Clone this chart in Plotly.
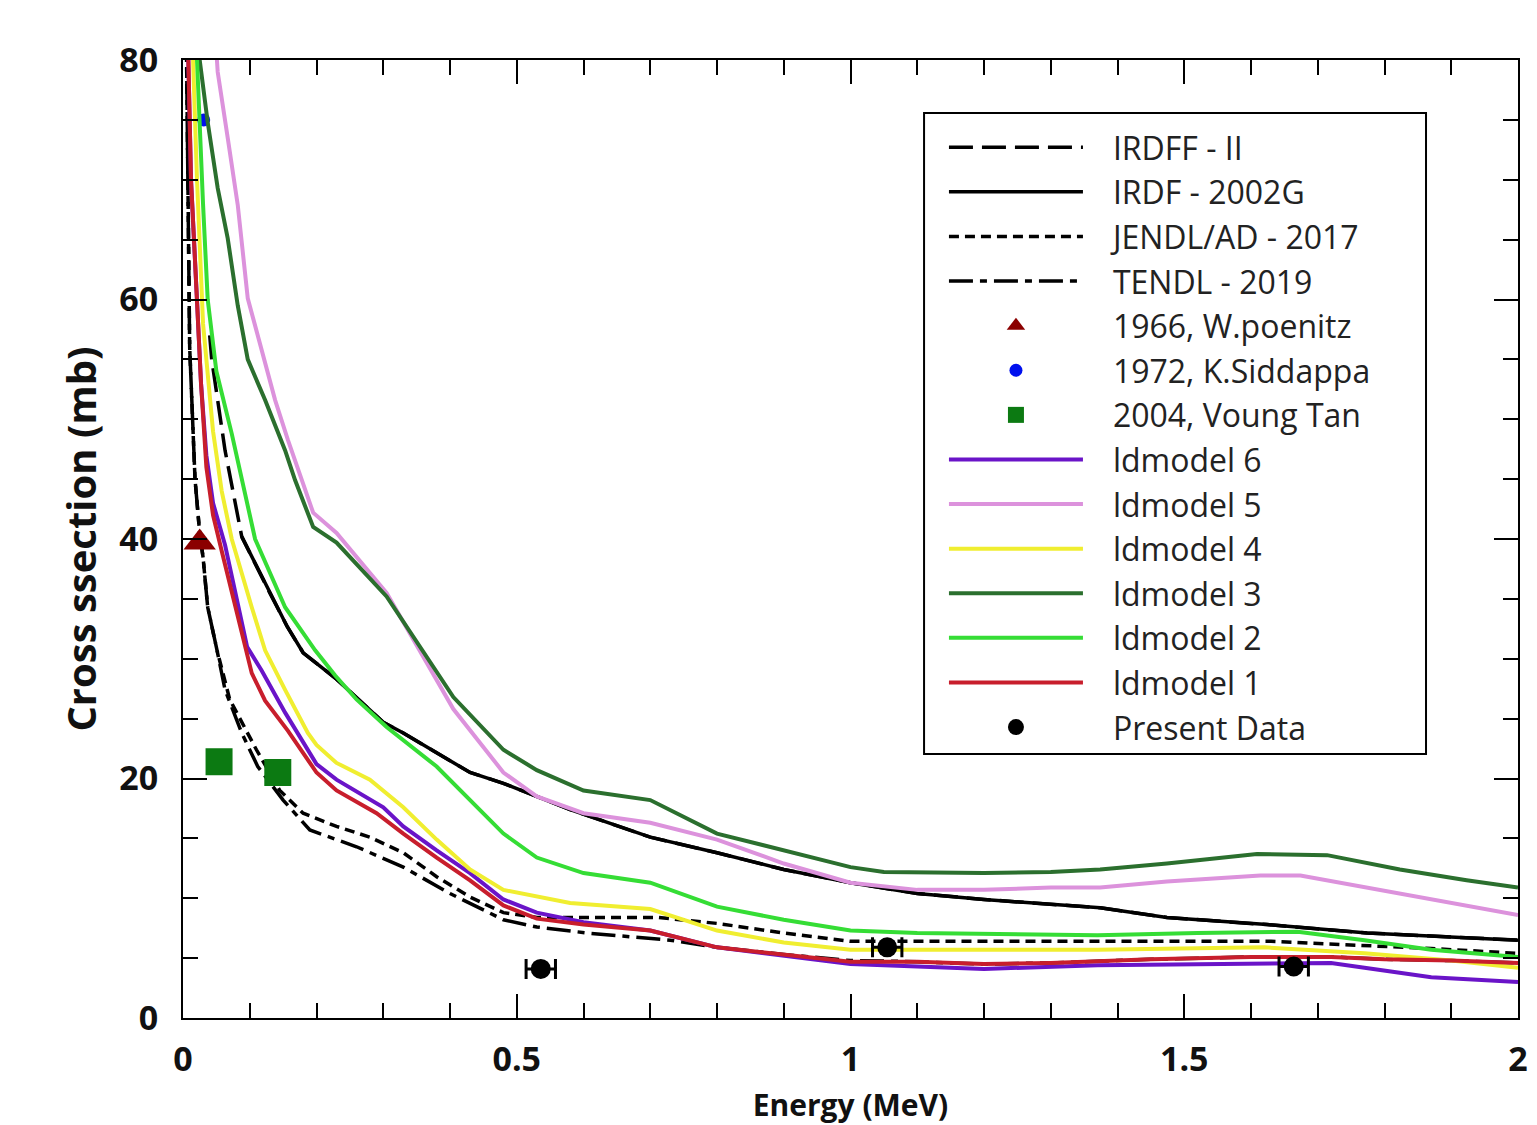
import plotly.graph_objects as go

# ---------------- data ----------------
irdff_E = [0.04, 0.043, 0.063, 0.088, 0.13, 0.156, 0.18, 0.23, 0.3, 0.33, 0.43, 0.48, 0.58, 0.7, 0.8, 0.9, 1.0,
           1.1, 1.2, 1.3, 1.374, 1.474, 1.624, 1.774, 1.923, 2.0]
irdff_S = [57.0, 55.0, 47.4, 40.2, 35.5, 32.7, 30.5, 28.3, 24.7, 23.8, 20.5, 19.6, 17.4, 15.1, 13.8, 12.4, 11.3,
           10.4, 9.9, 9.5, 9.2, 8.4, 7.8, 7.1, 6.7, 6.5]

irdf_E = [0.088, 0.13, 0.156, 0.18, 0.23, 0.3, 0.33, 0.43, 0.48, 0.58, 0.7, 0.8, 0.9, 1.0,
          1.1, 1.2, 1.3, 1.374, 1.474, 1.624, 1.774, 1.923, 2.0]
irdf_S = [40.2, 35.5, 32.7, 30.5, 28.3, 24.7, 23.8, 20.5, 19.6, 17.4, 15.1, 13.8, 12.4, 11.3,
          10.4, 9.9, 9.5, 9.2, 8.4, 7.8, 7.1, 6.7, 6.5]

jendl_E = [0.005, 0.008, 0.01, 0.018, 0.025, 0.03, 0.037, 0.051, 0.07, 0.11, 0.145, 0.18, 0.23, 0.28, 0.33,
           0.38, 0.43, 0.48, 0.53, 0.71, 0.8, 0.9, 1.0, 1.63, 1.72, 1.87, 2.0]
jendl_S = [82.0, 69.0, 56.0, 45.0, 40.5, 38.5, 34.3, 30.7, 26.6, 22.4, 19.0, 17.1, 16.0, 15.1, 13.8,
           11.8, 10.1, 8.8, 8.4, 8.4, 7.9, 7.1, 6.4, 6.4, 6.2, 5.8, 5.4]

tendl_E = [0.005, 0.008, 0.01, 0.018, 0.025, 0.03, 0.037, 0.051, 0.063, 0.088, 0.112, 0.15, 0.19, 0.26, 0.33,
           0.40, 0.48, 0.53, 0.605, 0.73, 0.8, 0.9, 1.0, 1.1, 1.2, 1.3, 1.45, 1.6, 1.72, 1.8, 1.9, 2.0]
tendl_S = [82.0, 69.0, 56.0, 45.0, 40.5, 38.5, 34.3, 30.7, 27.4, 23.8, 21.0, 18.2, 15.7, 14.3, 12.6,
           10.4, 8.2, 7.6, 7.1, 6.5, 5.9, 5.3, 4.8, 4.7, 4.5, 4.6, 4.9, 5.1, 5.1, 4.9, 4.8, 4.6]

poenitz_E = [0.025]
poenitz_S = [39.7]

siddappa_E = [0.031]
siddappa_S = [75.0]

tan_E = [0.054, 0.142]
tan_S = [21.4, 20.5]

ld6_E = [0.006, 0.012, 0.02, 0.027, 0.035, 0.045, 0.063, 0.08, 0.096, 0.118, 0.153, 0.2, 0.23, 0.3, 0.33,
         0.38, 0.43, 0.48, 0.53, 0.6, 0.7, 0.8, 0.9, 1.0, 1.1, 1.2, 1.37, 1.5, 1.72, 1.77, 1.87, 2.0]
ld6_S = [85.0, 70.0, 61.0, 53.0, 47.0, 43.0, 39.5, 35.0, 31.0, 29.0, 25.5, 21.2, 19.9, 17.6, 16.0,
         14.0, 12.1, 9.9, 8.8, 8.0, 7.3, 5.9, 5.2, 4.5, 4.3, 4.1, 4.4, 4.5, 4.6, 4.2, 3.4, 3.0]

ld5_E = [0.045, 0.052, 0.067, 0.082, 0.097, 0.118, 0.138, 0.157, 0.195, 0.23, 0.305, 0.405, 0.48, 0.53, 0.6,
         0.7, 0.8, 0.9, 1.0, 1.1, 1.2, 1.3, 1.374, 1.474, 1.614, 1.674, 1.774, 1.874, 2.0]
ld5_S = [85.0, 79.0, 73.5, 67.9, 60.1, 55.8, 51.6, 48.3, 42.2, 40.5, 35.5, 25.8, 20.5, 18.5, 17.1,
         16.3, 14.9, 12.9, 11.3, 10.7, 10.7, 10.9, 10.9, 11.4, 11.9, 11.9, 10.9, 9.9, 8.6]

ld4_E = [0.008, 0.015, 0.021, 0.03, 0.045, 0.058, 0.073, 0.103, 0.123, 0.153, 0.187, 0.2, 0.23, 0.28, 0.33,
         0.38, 0.43, 0.48, 0.58, 0.7, 0.8, 0.9, 1.0, 1.37, 1.62, 1.77, 1.9, 2.0]
ld4_S = [92.0, 80.0, 70.0, 58.0, 49.0, 44.0, 40.0, 34.3, 30.7, 27.4, 23.8, 22.8, 21.3, 19.9, 17.6,
         14.9, 12.4, 10.7, 9.6, 9.1, 7.3, 6.3, 5.7, 5.7, 5.9, 5.4, 4.8, 4.2]

ld3_E = [0.018, 0.025, 0.037, 0.052, 0.067, 0.082, 0.097, 0.123, 0.153, 0.168, 0.195, 0.23, 0.305, 0.405,
         0.48, 0.53, 0.6, 0.65, 0.7, 0.8, 0.9, 1.0, 1.05, 1.2, 1.3, 1.374, 1.474, 1.609, 1.714, 1.823,
         1.923, 2.0]
ld3_S = [88.0, 80.0, 74.8, 69.3, 65.1, 59.5, 55.0, 51.6, 47.4, 44.9, 41.0, 39.7, 35.2, 26.8,
         22.4, 20.7, 19.0, 18.6, 18.2, 15.4, 14.0, 12.6, 12.2, 12.1, 12.2, 12.4, 12.9, 13.7, 13.6, 12.4,
         11.5, 10.9]

ld2_E = [0.014, 0.021, 0.03, 0.037, 0.05, 0.073, 0.108, 0.153, 0.198, 0.228, 0.26, 0.305, 0.38, 0.43, 0.48,
         0.53, 0.6, 0.7, 0.8, 0.9, 1.0, 1.1, 1.2, 1.37, 1.52, 1.67, 1.77, 1.87, 2.0]
ld2_S = [92.0, 80.0, 68.0, 60.0, 54.0, 48.8, 40.0, 34.3, 30.7, 28.6, 26.6, 24.3, 21.0, 18.2, 15.4,
         13.4, 12.1, 11.3, 9.3, 8.2, 7.3, 7.1, 7.0, 6.9, 7.1, 7.2, 6.5, 5.7, 5.1]

ld1_E = [0.006, 0.012, 0.02, 0.027, 0.035, 0.045, 0.058, 0.073, 0.088, 0.103, 0.123, 0.157, 0.2, 0.23, 0.29,
         0.33, 0.38, 0.43, 0.48, 0.53, 0.6, 0.7, 0.8, 0.9, 1.0, 1.1, 1.2, 1.3, 1.45, 1.6, 1.72, 1.8, 1.9, 2.0]
ld1_S = [85.0, 70.0, 61.0, 53.0, 46.0, 42.0, 39.0, 35.5, 32.0, 28.8, 26.5, 24.0, 20.5, 19.0, 17.1,
         15.4, 13.4, 11.5, 9.4, 8.3, 7.8, 7.3, 5.9, 5.3, 4.7, 4.7, 4.5, 4.6, 4.9, 5.1, 5.1, 4.9, 4.8, 4.6]

present_E = [0.536, 1.055, 1.664]
present_S = [4.1, 5.9, 4.3]
present_dE = [0.022, 0.022, 0.022]

x_ticks = [0, 0.5, 1, 1.5, 2]
x_ticklabels = ["0", "0.5", "1", "1.5", "2"]
y_ticks = [0, 20, 40, 60, 80]
y_ticklabels = ["0", "20", "40", "60", "80"]

# ---------------- figure ----------------
FONT = "Open Sans"
PAD = "\u00a0\u00a0\u00a0"
fig = go.Figure()


def line(x, y, name, color, width=4, dash="solid"):
    fig.add_trace(go.Scatter(x=x, y=y, mode="lines", name=PAD + name,
                             line=dict(color=color, width=width, dash=dash)))


line(irdff_E, irdff_S, "IRDFF - II", "black", 3.5, "24px,9px")
line(irdf_E, irdf_S, "IRDF - 2002G", "black", 3.5)
line(jendl_E, jendl_S, "JENDL/AD - 2017", "black", 3.5, "10px,6px")
line(tendl_E, tendl_S, "TENDL - 2019", "black", 3.5, "24px,7px,7px,7px")

fig.add_trace(go.Scatter(x=poenitz_E, y=poenitz_S, mode="markers", name=PAD + "1966, W.poenitz",
                         marker=dict(symbol="triangle-up", size=28, color="#8b0000")))
fig.add_trace(go.Scatter(x=siddappa_E, y=siddappa_S, mode="markers", name=PAD + "1972, K.Siddappa",
                         marker=dict(symbol="circle", size=13, color="#0010ee")))
fig.add_trace(go.Scatter(x=tan_E, y=tan_S, mode="markers", name=PAD + "2004, Voung Tan",
                         marker=dict(symbol="square", size=27, color="#0c7a12")))

line(ld6_E, ld6_S, "ldmodel 6", "#6a14c8", 4)
line(ld5_E, ld5_S, "ldmodel 5", "#dc92dc", 4)
line(ld4_E, ld4_S, "ldmodel 4", "#f0ee30", 4)
line(ld3_E, ld3_S, "ldmodel 3", "#2b6f2e", 4)
line(ld2_E, ld2_S, "ldmodel 2", "#35dd35", 4)
line(ld1_E, ld1_S, "ldmodel 1", "#c81e2c", 4)

fig.add_trace(go.Scatter(x=present_E, y=present_S, mode="markers", name=PAD + "Present Data",
                         marker=dict(symbol="circle", size=20, color="black"),
                         error_x=dict(type="data", array=present_dE, color="black",
                                      thickness=3, width=10)))

axis_common = dict(
    showline=True, linecolor="black", linewidth=2, mirror="allticks",
    ticks="inside", tickcolor="black", tickwidth=2, ticklen=24,
    showgrid=False, zeroline=False,
    tickfont=dict(family=FONT, size=34, color="#111", weight="bold"),
)

fig.update_xaxes(range=[0, 2], tickmode="array", tickvals=x_ticks, ticktext=x_ticklabels,
                 minor=dict(dtick=0.1, ticks="inside", ticklen=15, tickwidth=2, tickcolor="black",
                            showgrid=False),
                 ticklabelstandoff=10,
                 title=dict(text="Energy (MeV)", standoff=17,
                            font=dict(family=FONT, size=30, color="#111", weight="bold")),
                 automargin=False, **axis_common)
fig.update_yaxes(range=[0, 80], tickmode="array", tickvals=y_ticks, ticktext=y_ticklabels,
                 minor=dict(dtick=5, ticks="inside", ticklen=15, tickwidth=2, tickcolor="black",
                            showgrid=False),
                 ticklabelstandoff=16,
                 title=dict(text="Cross ssection (mb)", standoff=10,
                            font=dict(family=FONT, size=40, color="#111", weight="bold")),
                 automargin=False, **axis_common)

# legend frame (page px 924..1426, 113..754)
fig.add_shape(type="rect", xref="paper", yref="paper",
              x0=0.5551, x1=0.9311, y0=0.2756, y1=0.9447,
              line=dict(color="black", width=2), fillcolor="white", layer="above")

fig.update_layout(
    width=1521, height=1117,
    margin=dict(l=175, r=11, t=52, b=107),
    paper_bgcolor="white", plot_bgcolor="white",
    showlegend=True,
    legend=dict(x=0.570, y=0.9374, xanchor="left", yanchor="top",
                bgcolor="rgba(0,0,0,0)", borderwidth=0,
                font=dict(family=FONT, size=32, color="#222"),
                itemwidth=134, tracegroupgap=0),
)

fig.write_html("out.html")
